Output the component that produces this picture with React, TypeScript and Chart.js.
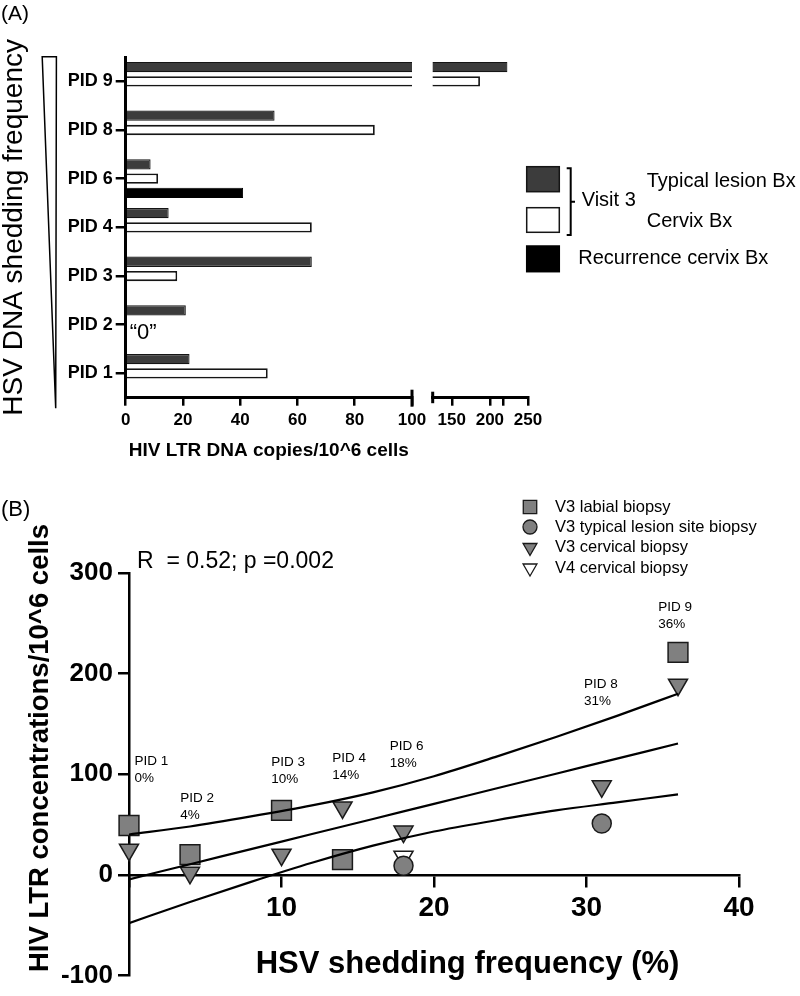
import React, { useEffect, useRef } from 'react';
import { Chart, registerables } from 'chart.js';

Chart.register(...registerables);

const FONT = "'Liberation Sans', Arial, Helvetica, sans-serif";

// ---------------- Panel A data ----------------
const pidCategories = ['PID 9', 'PID 8', 'PID 6', 'PID 4', 'PID 3', 'PID 2', 'PID 1'];
const typicalLesionBx = [223, 52, 8.7, 15, 65, 21, 22.3];
const cervixBx = [187, 87, 11.3, 65, 18, null, 49.6];
const recurrenceCervixBx = [null, null, 41, null, null, null, null];
const leftSegmentRange = [0, 100];
const leftSegmentTicks = [0, 20, 40, 60, 80, 100];
const rightSegmentRange = [125, 250];
const rightSegmentTicks = [150, 200, 217, 250];
const rightSegmentLabels = ['150', '200', '', '250'];

// ---------------- Panel B data ----------------
const labialX = [0, 4, 10, 14, 36];
const labialY = [49, 20, 64, 15, 221];
const lesionSiteX = [18, 31];
const lesionSiteY = [9, 51];
const v3CervicalX = [0, 4, 10, 14, 18, 31, 36];
const v3CervicalY = [25, 2, 20, 67, 43, 88, 189];
const v4CervicalX = [18];
const v4CervicalY = [18];
const fitX = [0, 4, 8, 12, 16, 20, 24, 28, 32, 36];
const fitY = [-4.5, 10.5, 25.5, 40.5, 55.5, 70.5, 85.5, 100.5, 115.5, 130.5];
const ciUpperY = [40, 48, 58, 69, 82, 98, 117, 137, 158, 180];
const ciLowerY = [-48, -27, -7, 12, 29, 43, 54, 64, 72, 80];
const xTicksB = [0, 10, 20, 30, 40];
const xTickLabelsB = ['', '10', '20', '30', '40'];
const yTicksB = [-100, 0, 100, 200, 300];
const pidNames = ['PID 1', 'PID 2', 'PID 3', 'PID 4', 'PID 6', 'PID 8', 'PID 9'];
const pidShedding = ['0%', '4%', '10%', '14%', '18%', '31%', '36%'];
const pidLabelAnchorX = [0.36, 3.36, 9.33, 13.33, 17.1, 29.84, 34.7];
const pidLabelAnchorY = [112.6, 75.7, 111.4, 115.8, 128.2, 189.6, 266.3];
const statText = 'R  = 0.52; p =0.002';

const GRAY = '#808080';
const EDGE = '#1a1a1a';

function barDatasets() {
  const common = { categoryPercentage: 0.88, barPercentage: 0.72, clip: 0 };
  return [
    { ...common, label: 'Typical lesion Bx', data: typicalLesionBx, backgroundColor: '#3c3c3c', borderColor: '#151515', borderWidth: 1.2 },
    { ...common, label: 'Cervix Bx', data: cervixBx, backgroundColor: '#ffffff', borderColor: '#151515', borderWidth: 1.8 },
    { ...common, label: 'Recurrence cervix Bx', data: recurrenceCervixBx, backgroundColor: '#000000', borderColor: '#000000', borderWidth: 1 },
  ];
}

const axisGrid = (tickLength: number, lw: number) => ({
  drawOnChartArea: false,
  drawTicks: true,
  tickLength,
  color: '#000',
  lineWidth: lw,
});

const panelALeftDecor = {
  id: 'panelALeftDecor',
  afterDraw(chart: any) {
    const { ctx } = chart;
    const xs = chart.scales.x;
    const ys = chart.scales.y;
    ctx.save();
    ctx.fillStyle = '#000';
    ctx.strokeStyle = '#000';
    ctx.textBaseline = 'middle';
    ctx.textAlign = 'left';
    ctx.font = `21px ${FONT}`;
    ctx.fillText('(A)', 1, 14.5);
    // frequency wedge
    ctx.beginPath();
    ctx.moveTo(42.2, 56.7);
    ctx.lineTo(56.4, 56.7);
    ctx.lineTo(55.7, 408.3);
    ctx.closePath();
    ctx.lineWidth = 1.5;
    ctx.stroke();
    // axis break mark
    const by = chart.chartArea.bottom;
    ctx.lineWidth = 3;
    ctx.beginPath();
    ctx.moveTo(xs.right, by - 8);
    ctx.lineTo(xs.right, by + 9);
    ctx.stroke();
    // "0" note
    const yPid2 = ys.getPixelForValue(pidCategories.indexOf('PID 2'));
    ctx.font = `22px ${FONT}`;
    ctx.fillText('\u201C0\u201D', xs.getPixelForValue(0) + 4, yPid2 + 8);
    ctx.restore();
  },
};

const panelARightDecor = {
  id: 'panelARightDecor',
  afterDraw(chart: any) {
    const { ctx } = chart;
    const xs = chart.scales.x;
    const by = chart.chartArea.bottom;
    ctx.save();
    ctx.strokeStyle = '#000';
    ctx.fillStyle = '#000';
    ctx.lineWidth = 3;
    ctx.beginPath();
    ctx.moveTo(xs.left, by - 6);
    ctx.lineTo(xs.left, by + 5.5);
    ctx.stroke();
    // legend
    const ds = chart.data.datasets;
    const boxX = 106.7;
    const boxW = 32.6;
    const boxes = [
      [166.7, 25],
      [207.7, 24.6],
      [246, 25.7],
    ];
    boxes.forEach(([y, h], i) => {
      ctx.fillStyle = ds[i].backgroundColor;
      ctx.fillRect(boxX, y, boxW, h);
      ctx.lineWidth = 1.5;
      ctx.strokeStyle = ds[i].borderColor;
      ctx.strokeRect(boxX, y, boxW, h);
    });
    // bracket
    ctx.strokeStyle = '#000';
    ctx.lineWidth = 2;
    ctx.beginPath();
    ctx.moveTo(146.7, 168.3);
    ctx.lineTo(150.7, 168.3);
    ctx.lineTo(150.7, 235);
    ctx.lineTo(146.7, 235);
    ctx.moveTo(150.7, 201.7);
    ctx.lineTo(155, 201.7);
    ctx.stroke();
    ctx.fillStyle = '#000';
    ctx.font = `20px ${FONT}`;
    ctx.textBaseline = 'middle';
    ctx.textAlign = 'left';
    ctx.fillText('Visit 3', 161.7, 200.5);
    ctx.fillText(ds[0].label, 226.7, 181.7);
    ctx.fillText(ds[1].label, 226.7, 221.7);
    ctx.fillText(ds[2].label, 158.3, 258.8);
    ctx.restore();
  },
};

function drawMarker(ctx: CanvasRenderingContext2D, style: string, x: number, y: number, r: number, fill: string, stroke: string, lw: number) {
  ctx.beginPath();
  if (style === 'rect') {
    const s = r * Math.SQRT1_2;
    ctx.rect(x - s, y - s, 2 * s, 2 * s);
  } else if (style === 'circle') {
    ctx.arc(x, y, r, 0, Math.PI * 2);
  } else {
    // downward triangle
    const h = (r * Math.sqrt(3)) / 2;
    ctx.moveTo(x - h, y - r / 2);
    ctx.lineTo(x + h, y - r / 2);
    ctx.lineTo(x, y + r);
    ctx.closePath();
  }
  ctx.fillStyle = fill;
  ctx.fill();
  ctx.lineWidth = lw;
  ctx.strokeStyle = stroke;
  ctx.stroke();
}

const panelBDecor = {
  id: 'panelBDecor',
  afterDraw(chart: any) {
    const { ctx } = chart;
    const xs = chart.scales.x;
    const ys = chart.scales.y;
    ctx.save();
    ctx.fillStyle = '#000';
    ctx.textAlign = 'left';
    ctx.textBaseline = 'middle';
    ctx.font = `22px ${FONT}`;
    ctx.fillText('(B)', 1, 40);
    ctx.font = `23px ${FONT}`;
    ctx.fillText(statText, 137, 92);
    // legend
    const ds = chart.data.datasets;
    const legendRowsY = [37, 57, 77.5, 98];
    const legendR = [9.5, 7, 8, 8];
    for (let i = 0; i < 4; i++) {
      drawMarker(ctx, ds[i].pointStyle, 530, legendRowsY[i], legendR[i], ds[i].pointBackgroundColor, ds[i].pointBorderColor, 1.3);
      ctx.fillStyle = '#000';
      ctx.font = `16.5px ${FONT}`;
      ctx.fillText(ds[i].label, 555, legendRowsY[i]);
    }
    // PID annotations
    ctx.font = `13.5px ${FONT}`;
    ctx.fillStyle = '#000';
    pidNames.forEach((name, i) => {
      const px = xs.getPixelForValue(pidLabelAnchorX[i]);
      const py = ys.getPixelForValue(pidLabelAnchorY[i]);
      ctx.fillText(name, px, py);
      ctx.fillText(pidShedding[i], px, py + 17);
    });
    // x axis title
    ctx.font = `bold 31px ${FONT}`;
    ctx.textAlign = 'center';
    ctx.fillText('HSV shedding frequency (%)', 467.5, 494);
    // y axis title (rotated)
    ctx.save();
    ctx.translate(40, 278);
    ctx.rotate(-Math.PI / 2);
    ctx.font = `bold 27.5px ${FONT}`;
    ctx.textAlign = 'center';
    ctx.textBaseline = 'middle';
    ctx.fillText('HIV LTR concentrations/10^6 cells', 0, 0);
    ctx.restore();
    ctx.restore();
  },
};

const toPoints = (xs: number[], ys: number[]) => xs.map((x, i) => ({ x, y: ys[i] }));

export default function App() {
  const aLeftRef = useRef<HTMLCanvasElement>(null);
  const aRightRef = useRef<HTMLCanvasElement>(null);
  const bRef = useRef<HTMLCanvasElement>(null);

  useEffect(() => {
    const charts: Chart[] = [];

    charts.push(
      new Chart(aLeftRef.current as HTMLCanvasElement, {
        type: 'bar',
        data: { labels: pidCategories, datasets: barDatasets() as any },
        plugins: [panelALeftDecor],
        options: {
          indexAxis: 'y',
          animation: false,
          responsive: false,
          devicePixelRatio: 1,
          events: [],
          layout: { padding: { top: 57, right: 28, bottom: 0, left: 0 } },
          plugins: { legend: { display: false }, tooltip: { enabled: false } },
          scales: {
            x: {
              type: 'linear',
              min: leftSegmentRange[0],
              max: leftSegmentRange[1],
              afterBuildTicks: (s: any) => {
                s.ticks = leftSegmentTicks.map((v) => ({ value: v }));
              },
              ticks: { font: { family: FONT, size: 17, weight: 'bold' }, color: '#000', padding: 4, maxRotation: 0 },
              grid: axisGrid(8, 2.5),
              border: { display: true, color: '#000', width: 3 },
              title: {
                display: true,
                text: 'HIV LTR DNA copies/10^6 cells',
                font: { family: FONT, size: 19, weight: 'bold', lineHeight: 1 },
                color: '#000',
                padding: { top: 0, bottom: 10 },
              },
              afterFit: (s: any) => {
                s.height = 72.3;
              },
            },
            y: {
              type: 'category',
              offset: true,
              ticks: { font: { family: FONT, size: 18, weight: 'bold' }, color: '#000', padding: 3 },
              grid: { ...axisGrid(10, 2.5), offset: false },
              border: { display: true, color: '#000', width: 3 },
              title: {
                display: true,
                text: 'HSV DNA shedding frequency',
                font: { family: FONT, size: 28, lineHeight: 1 },
                color: '#000',
                padding: { top: 0, bottom: 0 },
              },
              afterFit: (s: any) => {
                s.width = 125.7;
              },
            },
          },
        } as any,
      })
    );

    charts.push(
      new Chart(aRightRef.current as HTMLCanvasElement, {
        type: 'bar',
        data: { labels: pidCategories, datasets: barDatasets() as any },
        plugins: [panelARightDecor],
        options: {
          indexAxis: 'y',
          animation: false,
          responsive: false,
          devicePixelRatio: 1,
          events: [],
          layout: { padding: { top: 57, right: 272, bottom: 0, left: 12.7 } },
          plugins: { legend: { display: false }, tooltip: { enabled: false } },
          scales: {
            x: {
              type: 'linear',
              min: rightSegmentRange[0],
              max: rightSegmentRange[1],
              afterBuildTicks: (s: any) => {
                s.ticks = rightSegmentTicks.map((v) => ({ value: v }));
              },
              ticks: {
                font: { family: FONT, size: 17, weight: 'bold' },
                color: '#000',
                padding: 4,
                maxRotation: 0,
                callback: (_v: any, i: number) => rightSegmentLabels[i],
              },
              grid: axisGrid(8, 2.5),
              border: { display: true, color: '#000', width: 3 },
              afterFit: (s: any) => {
                s.height = 72.3;
              },
            },
            y: { type: 'category', offset: true, display: false },
          },
        } as any,
      })
    );

    const pointCommon = { showLine: false, clip: false, order: 1, pointBorderColor: EDGE, pointBorderWidth: 1.5, pointHoverRadius: 0 };
    const lineCommon = {
      showLine: true,
      pointRadius: 0,
      pointHoverRadius: 0,
      borderColor: '#000',
      backgroundColor: '#000',
      borderWidth: 2.2,
      cubicInterpolationMode: 'monotone',
      fill: false,
      order: 0,
    };

    charts.push(
      new Chart(bRef.current as HTMLCanvasElement, {
        type: 'scatter',
        data: {
          datasets: [
            { ...pointCommon, label: 'V3 labial biopsy', data: toPoints(labialX, labialY), pointStyle: 'rect', pointRadius: 14, pointBackgroundColor: GRAY },
            { ...pointCommon, label: 'V3 typical lesion site biopsy', data: toPoints(lesionSiteX, lesionSiteY), pointStyle: 'circle', pointRadius: 9.5, pointBackgroundColor: GRAY },
            { ...pointCommon, label: 'V3 cervical biopsy', data: toPoints(v3CervicalX, v3CervicalY), pointStyle: 'triangle', pointRotation: 180, pointRadius: 11, pointBackgroundColor: GRAY },
            { ...pointCommon, label: 'V4 cervical biopsy', data: toPoints(v4CervicalX, v4CervicalY), pointStyle: 'triangle', pointRotation: 180, pointRadius: 11, pointBackgroundColor: '#ffffff' },
            { ...lineCommon, label: 'Linear fit', data: toPoints(fitX, fitY) },
            { ...lineCommon, label: '95% CI upper', data: toPoints(fitX, ciUpperY) },
            { ...lineCommon, label: '95% CI lower', data: toPoints(fitX, ciLowerY) },
          ] as any,
        },
        plugins: [panelBDecor],
        options: {
          animation: false,
          responsive: false,
          devicePixelRatio: 1,
          events: [],
          layout: { padding: { top: 103, right: 61, bottom: 11, left: 0 } },
          plugins: { legend: { display: false }, tooltip: { enabled: false } },
          scales: {
            x: {
              type: 'linear',
              position: { y: 0 },
              min: 0,
              max: 40,
              afterBuildTicks: (s: any) => {
                s.ticks = xTicksB.map((v) => ({ value: v }));
              },
              ticks: {
                font: { family: FONT, size: 28, weight: 'bold' },
                color: '#000',
                padding: 6,
                maxRotation: 0,
                callback: (_v: any, i: number) => xTickLabelsB[i],
              },
              grid: axisGrid(11, 2.5),
              border: { display: true, color: '#000', width: 2.5 },
            },
            y: {
              type: 'linear',
              min: -100,
              max: 300,
              afterBuildTicks: (s: any) => {
                s.ticks = yTicksB.map((v) => ({ value: v }));
              },
              ticks: { font: { family: FONT, size: 26, weight: 'bold' }, color: '#000', padding: 5 },
              grid: axisGrid(11, 2.5),
              border: { display: true, color: '#000', width: 2.5 },
              afterFit: (s: any) => {
                s.width = 129;
              },
            },
          },
        } as any,
      })
    );

    return () => charts.forEach((c) => c.destroy());
  }, []);

  return (
    <div style={{ position: 'absolute', left: 0, top: 0, width: 800, height: 996, background: '#fff' }}>
      <canvas ref={aLeftRef} width={440} height={470} style={{ position: 'absolute', left: 0, top: 0 }} />
      <canvas ref={aRightRef} width={380} height={470} style={{ position: 'absolute', left: 420, top: 0 }} />
      <canvas ref={bRef} width={800} height={526} style={{ position: 'absolute', left: 0, top: 470 }} />
    </div>
  );
}
